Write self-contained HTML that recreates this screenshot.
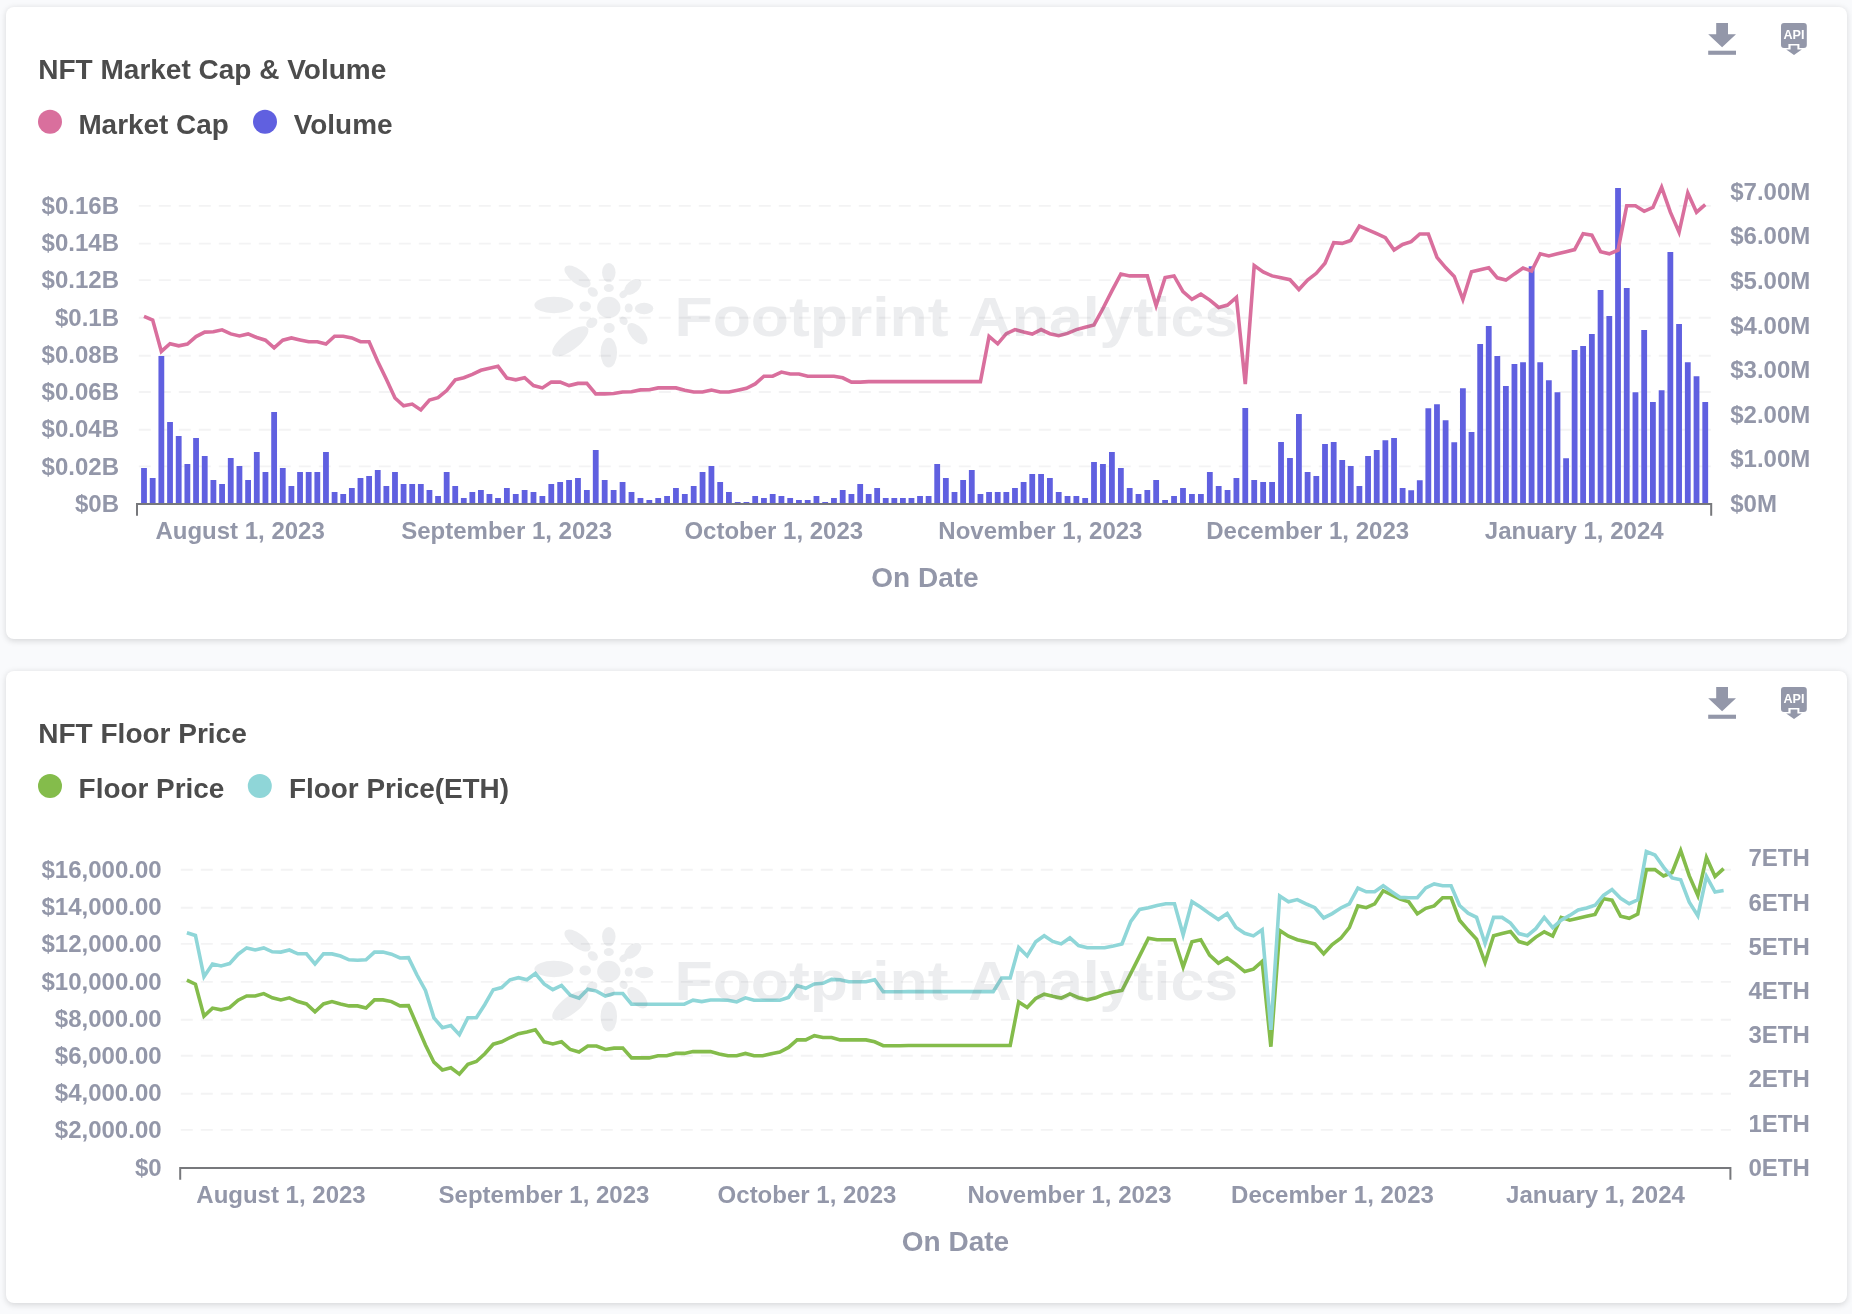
<!DOCTYPE html>
<html><head><meta charset="utf-8"><title>NFT charts</title>
<style>
html,body{margin:0;padding:0;}
body{width:1852px;height:1314px;background:#F9FAFC;position:relative;overflow:hidden;font-family:"Liberation Sans", sans-serif;}
.card{position:absolute;left:5.5px;width:1841px;background:#fff;border-radius:8px;box-shadow:0 1.5px 6px rgba(0,0,0,0.14);}
#c1{top:6.5px;height:632.5px;}
#c2{top:671px;height:632px;}
svg{position:absolute;left:0;top:0;}
text{font-family:"Liberation Sans", sans-serif;font-weight:bold;}
.tk{font-size:24px;fill:#9397A9;}
.ttl{font-size:28px;fill:#4C4C4C;}
.lg{font-size:27.9px;fill:#4C4C4C;}
.xl{font-size:28px;fill:#9397A9;}
</style></head><body>
<div class="card" id="c1"></div><div class="card" id="c2"></div>
<svg width="1852" height="1314" viewBox="0 0 1852 1314">
<defs>
<g id="wm">
<g fill="rgb(100,110,120)">
<ellipse cx="608.8" cy="307.4" rx="11.6" ry="10.6"/>
<ellipse cx="553.9" cy="305" rx="19.5" ry="8.2"/>
<ellipse cx="577.5" cy="276.5" rx="15.6" ry="7" transform="rotate(38 577.5 276.5)"/>
<ellipse cx="608.8" cy="272.6" rx="6.7" ry="9.7"/>
<ellipse cx="632.8" cy="286.9" rx="10" ry="6" transform="rotate(-40 632.8 286.9)"/>
<ellipse cx="644.1" cy="308.5" rx="9.2" ry="5.7"/>
<ellipse cx="637.4" cy="333.7" rx="13" ry="6.8" transform="rotate(48 637.4 333.7)"/>
<ellipse cx="608.8" cy="352.6" rx="8.2" ry="14.9"/>
<ellipse cx="570.3" cy="341.3" rx="22" ry="8.6" transform="rotate(-38 570.3 341.3)"/>
<ellipse cx="585.2" cy="306.4" rx="5.7" ry="5"/>
<ellipse cx="592.8" cy="292" rx="5.5" ry="4.3" transform="rotate(38 592.8 292)"/>
<ellipse cx="608.8" cy="288" rx="5" ry="4"/>
<ellipse cx="623.6" cy="294.1" rx="4.5" ry="3.4" transform="rotate(-40 623.6 294.1)"/>
<ellipse cx="628.7" cy="308" rx="4" ry="4.5"/>
<ellipse cx="623.6" cy="320.8" rx="4.5" ry="3.8" transform="rotate(48 623.6 320.8)"/>
<ellipse cx="609.2" cy="328" rx="5.5" ry="5"/>
<ellipse cx="591.8" cy="322.8" rx="6" ry="4.8" transform="rotate(-38 591.8 322.8)"/>
</g>
<text x="674.5" y="335.8" font-size="55" fill="rgb(100,110,120)" textLength="274" lengthAdjust="spacingAndGlyphs">Footprint</text>
<text x="968" y="335.8" font-size="55" fill="rgb(100,110,120)" textLength="270" lengthAdjust="spacingAndGlyphs">Analytics</text>
</g>
<g id="icons" fill="#9397A9">
<path d="M1716.2 23H1728V34.2H1736L1722.1 47.2L1708.2 34.2H1716.2Z"/>
<rect x="1708.2" y="50.7" width="27.8" height="4.1"/>
<path d="M1784 23H1803.8A3 3 0 0 1 1806.8 26V45A3 3 0 0 1 1803.8 48H1799.4V44H1788.4V48H1784A3 3 0 0 1 1781 45V26A3 3 0 0 1 1784 23Z"/>
<path d="M1790.6 45.6H1797.4V49.6H1801.8L1794 54.9L1786.2 49.6H1790.6Z"/>
<text x="1793.9" y="39.4" font-size="12.3" text-anchor="middle" fill="#fff" textLength="21" lengthAdjust="spacingAndGlyphs">API</text>
</g>
</defs>
<line x1="138.8" x2="1712.2" y1="466.4" y2="466.4" stroke="#F3F3F4" stroke-width="1.9" stroke-dasharray="12 8"/>
<line x1="138.8" x2="1712.2" y1="429.7" y2="429.7" stroke="#F3F3F4" stroke-width="1.9" stroke-dasharray="12 8"/>
<line x1="138.8" x2="1712.2" y1="392" y2="392" stroke="#F3F3F4" stroke-width="1.9" stroke-dasharray="12 8"/>
<line x1="138.8" x2="1712.2" y1="355.7" y2="355.7" stroke="#F3F3F4" stroke-width="1.9" stroke-dasharray="12 8"/>
<line x1="138.8" x2="1712.2" y1="317.8" y2="317.8" stroke="#F3F3F4" stroke-width="1.9" stroke-dasharray="12 8"/>
<line x1="138.8" x2="1712.2" y1="280.1" y2="280.1" stroke="#F3F3F4" stroke-width="1.9" stroke-dasharray="12 8"/>
<line x1="138.8" x2="1712.2" y1="243.6" y2="243.6" stroke="#F3F3F4" stroke-width="1.9" stroke-dasharray="12 8"/>
<line x1="138.8" x2="1712.2" y1="205.9" y2="205.9" stroke="#F3F3F4" stroke-width="1.9" stroke-dasharray="12 8"/>
<path d="M141.1 503.5V468.1h5.8V503.5ZM149.78 503.5V478h5.8V503.5ZM158.45 503.5V355.9h5.8V503.5ZM167.13 503.5V421.9h5.8V503.5ZM175.8 503.5V436.1h5.8V503.5ZM184.48 503.5V464h5.8V503.5ZM193.15 503.5V438h5.8V503.5ZM201.83 503.5V456.1h5.8V503.5ZM210.5 503.5V480h5.8V503.5ZM219.18 503.5V484h5.8V503.5ZM227.85 503.5V458.1h5.8V503.5ZM236.53 503.5V466.1h5.8V503.5ZM245.2 503.5V480h5.8V503.5ZM253.88 503.5V452h5.8V503.5ZM262.55 503.5V472h5.8V503.5ZM271.23 503.5V412.1h5.8V503.5ZM279.87 503.5V468.1h5.8V503.5ZM288.51 503.5V486.1h5.8V503.5ZM297.15 503.5V472h5.8V503.5ZM305.78 503.5V472h5.8V503.5ZM314.42 503.5V472h5.8V503.5ZM323.06 503.5V452h5.8V503.5ZM331.69 503.5V492.1h5.8V503.5ZM340.32 503.5V494h5.8V503.5ZM348.95 503.5V488.1h5.8V503.5ZM357.58 503.5V478h5.8V503.5ZM366.21 503.5V476.1h5.8V503.5ZM374.84 503.5V470.1h5.8V503.5ZM383.46 503.5V486.1h5.8V503.5ZM392.08 503.5V472h5.8V503.5ZM400.69 503.5V484h5.8V503.5ZM409.31 503.5V484h5.8V503.5ZM417.92 503.5V484h5.8V503.5ZM426.54 503.5V490.1h5.8V503.5ZM435.15 503.5V496h5.8V503.5ZM443.77 503.5V472h5.8V503.5ZM452.33 503.5V486.1h5.8V503.5ZM460.88 503.5V498.1h5.8V503.5ZM469.44 503.5V492.1h5.8V503.5ZM477.99 503.5V490.1h5.8V503.5ZM486.55 503.5V494h5.8V503.5ZM495.1 503.5V498.1h5.8V503.5ZM503.97 503.5V488.1h5.8V503.5ZM512.85 503.5V494h5.8V503.5ZM521.72 503.5V490.1h5.8V503.5ZM530.59 503.5V492.1h5.8V503.5ZM539.48 503.5V496h5.8V503.5ZM548.38 503.5V484h5.8V503.5ZM557.27 503.5V482h5.8V503.5ZM566.16 503.5V480h5.8V503.5ZM575.06 503.5V478h5.8V503.5ZM583.95 503.5V490.1h5.8V503.5ZM592.84 503.5V450h5.8V503.5ZM601.79 503.5V480h5.8V503.5ZM610.73 503.5V490.1h5.8V503.5ZM619.67 503.5V482h5.8V503.5ZM628.61 503.5V492.1h5.8V503.5ZM637.55 503.5V498.1h5.8V503.5ZM646.43 503.5V500.1h5.8V503.5ZM655.3 503.5V498.1h5.8V503.5ZM664.17 503.5V496h5.8V503.5ZM673.04 503.5V488.1h5.8V503.5ZM681.91 503.5V494h5.8V503.5ZM690.79 503.5V486.1h5.8V503.5ZM699.66 503.5V472h5.8V503.5ZM708.53 503.5V466.1h5.8V503.5ZM717.28 503.5V482h5.8V503.5ZM726.03 503.5V492.1h5.8V503.5ZM734.78 503.5V502h5.8V503.5ZM743.54 503.5V502h5.8V503.5ZM752.29 503.5V496h5.8V503.5ZM761.04 503.5V498.1h5.8V503.5ZM769.79 503.5V494h5.8V503.5ZM778.54 503.5V496h5.8V503.5ZM787.29 503.5V498.1h5.8V503.5ZM796.04 503.5V500.1h5.8V503.5ZM804.8 503.5V500.1h5.8V503.5ZM813.55 503.5V496h5.8V503.5ZM822.3 503.5V502h5.8V503.5ZM831.05 503.5V498.1h5.8V503.5ZM839.8 503.5V490.1h5.8V503.5ZM848.55 503.5V494h5.8V503.5ZM857.3 503.5V484h5.8V503.5ZM865.78 503.5V494h5.8V503.5ZM874.25 503.5V488.1h5.8V503.5ZM882.83 503.5V498.1h5.8V503.5ZM891.41 503.5V498.1h5.8V503.5ZM899.99 503.5V498.1h5.8V503.5ZM908.56 503.5V498.1h5.8V503.5ZM917.14 503.5V496h5.8V503.5ZM925.72 503.5V496h5.8V503.5ZM934.3 503.5V464h5.8V503.5ZM942.95 503.5V478h5.8V503.5ZM951.6 503.5V492.1h5.8V503.5ZM960.24 503.5V480h5.8V503.5ZM968.89 503.5V470.1h5.8V503.5ZM977.53 503.5V494h5.8V503.5ZM986.16 503.5V492.1h5.8V503.5ZM994.8 503.5V492.1h5.8V503.5ZM1003.44 503.5V492.1h5.8V503.5ZM1012.07 503.5V488.1h5.8V503.5ZM1020.71 503.5V482h5.8V503.5ZM1029.34 503.5V474h5.8V503.5ZM1038.17 503.5V474h5.8V503.5ZM1046.99 503.5V478h5.8V503.5ZM1055.81 503.5V492.1h5.8V503.5ZM1064.63 503.5V496h5.8V503.5ZM1073.45 503.5V496h5.8V503.5ZM1082.28 503.5V498.1h5.8V503.5ZM1091.1 503.5V462h5.8V503.5ZM1100.05 503.5V464h5.8V503.5ZM1109.01 503.5V452h5.8V503.5ZM1117.96 503.5V468.1h5.8V503.5ZM1126.79 503.5V488.1h5.8V503.5ZM1135.61 503.5V494h5.8V503.5ZM1144.43 503.5V490h5.8V503.5ZM1153.25 503.5V480h5.8V503.5ZM1162.2 503.5V500.1h5.8V503.5ZM1171.15 503.5V496h5.8V503.5ZM1180.09 503.5V488.1h5.8V503.5ZM1189.04 503.5V494h5.8V503.5ZM1197.99 503.5V494h5.8V503.5ZM1206.93 503.5V472.1h5.8V503.5ZM1215.79 503.5V486.1h5.8V503.5ZM1224.65 503.5V490h5.8V503.5ZM1233.51 503.5V478h5.8V503.5ZM1242.37 503.5V408h5.8V503.5ZM1251.31 503.5V480h5.8V503.5ZM1260.25 503.5V482h5.8V503.5ZM1269.19 503.5V482h5.8V503.5ZM1278.13 503.5V442h5.8V503.5ZM1287.07 503.5V458.1h5.8V503.5ZM1296 503.5V414h5.8V503.5ZM1304.7 503.5V472.1h5.8V503.5ZM1313.4 503.5V476.1h5.8V503.5ZM1322.1 503.5V444.1h5.8V503.5ZM1330.79 503.5V442h5.8V503.5ZM1339.31 503.5V460h5.8V503.5ZM1347.84 503.5V466.1h5.8V503.5ZM1356.5 503.5V486.1h5.8V503.5ZM1365.16 503.5V456.1h5.8V503.5ZM1373.82 503.5V450.1h5.8V503.5ZM1382.48 503.5V440.2h5.8V503.5ZM1391.15 503.5V438.1h5.8V503.5ZM1399.72 503.5V488.1h5.8V503.5ZM1408.29 503.5V490.2h5.8V503.5ZM1416.86 503.5V480.2h5.8V503.5ZM1425.43 503.5V408.2h5.8V503.5ZM1434.07 503.5V404.2h5.8V503.5ZM1442.71 503.5V420.2h5.8V503.5ZM1451.35 503.5V442.2h5.8V503.5ZM1459.99 503.5V388.2h5.8V503.5ZM1468.63 503.5V432.1h5.8V503.5ZM1477.27 503.5V344.1h5.8V503.5ZM1485.84 503.5V326.1h5.8V503.5ZM1494.41 503.5V356.1h5.8V503.5ZM1502.98 503.5V386.1h5.8V503.5ZM1511.55 503.5V364.1h5.8V503.5ZM1520.13 503.5V362.2h5.8V503.5ZM1528.7 503.5V266.3h5.8V503.5ZM1537.32 503.5V362.2h5.8V503.5ZM1545.94 503.5V380.2h5.8V503.5ZM1554.56 503.5V392.2h5.8V503.5ZM1563.19 503.5V458.2h5.8V503.5ZM1571.71 503.5V350.1h5.8V503.5ZM1580.23 503.5V346.1h5.8V503.5ZM1588.95 503.5V334.1h5.8V503.5ZM1597.67 503.5V290.1h5.8V503.5ZM1606.4 503.5V316.1h5.8V503.5ZM1615.12 503.5V188h5.8V503.5ZM1623.84 503.5V288h5.8V503.5ZM1632.56 503.5V392.2h5.8V503.5ZM1641.28 503.5V330h5.8V503.5ZM1650.01 503.5V402.1h5.8V503.5ZM1658.73 503.5V390.2h5.8V503.5ZM1667.45 503.5V252h5.8V503.5ZM1676.17 503.5V324h5.8V503.5ZM1684.89 503.5V362.2h5.8V503.5ZM1693.62 503.5V376.2h5.8V503.5ZM1702.34 503.5V402.1h5.8V503.5Z" fill="#6060E0"/>
<polyline points="144,316.3 152.68,320 161.35,351.4 170.03,343.7 178.7,345.8 187.38,344 196.05,336.6 204.73,332.1 213.4,331.8 222.08,329.8 230.75,333.9 239.43,335.9 248.1,333.9 256.78,337.5 265.45,340.2 274.13,347.8 282.77,340.2 291.41,337.9 300.05,339.9 308.68,341.7 317.32,341.7 325.96,344 334.59,336.2 343.22,336.2 351.85,337.9 360.48,341.7 369.11,341.7 377.74,361.5 386.36,379.2 394.98,398 403.59,405.8 412.21,404.1 420.82,409.9 429.44,400 438.05,397.7 446.67,390.6 455.23,379.8 463.78,377.7 472.34,374.4 480.89,370.3 489.45,368.3 498,366.3 506.87,378 515.75,379.8 524.62,377.7 533.49,385.6 542.38,387.9 551.28,382.1 560.17,382.1 569.06,385.6 577.96,383.4 586.85,383.4 595.74,393.9 604.69,393.9 613.63,393.5 622.57,392 631.51,391.7 640.45,389.9 649.33,389.7 658.2,387.9 667.07,387.9 675.94,387.9 684.81,390.2 693.69,392 702.56,392 711.43,390 720.18,392 728.93,392 737.68,390.2 746.44,388.3 755.19,383.9 763.94,376.2 772.69,376.2 781.44,372.1 790.19,374 798.94,374 807.7,376.2 816.45,376.2 825.2,376.2 833.95,376.2 842.7,377.8 851.45,382.1 860.2,382.1 868.68,381.6 877.15,381.6 885.73,381.6 894.31,381.6 902.89,381.6 911.46,381.6 920.04,381.6 928.62,381.6 937.2,381.6 945.85,381.6 954.5,381.6 963.14,381.6 971.79,381.6 980.43,381.6 989.06,336.4 997.7,343.8 1006.34,333.7 1014.97,329.6 1023.61,332.1 1032.24,334 1041.07,329.6 1049.89,333.7 1058.71,335.7 1067.53,333.4 1076.35,329.6 1085.18,327.2 1094,324.9 1102.95,308.5 1111.91,290.9 1120.86,274 1129.69,275.9 1138.51,275.9 1147.33,275.9 1156.15,305.7 1165.1,277.6 1174.05,275.9 1182.99,291.6 1191.94,299.4 1200.89,294.2 1209.83,300.1 1218.69,307.4 1227.55,305 1236.41,297.3 1245.27,384 1254.21,265.6 1263.15,271.9 1272.09,275.9 1281.03,277.8 1289.97,279.7 1298.9,289.5 1307.6,280.1 1316.3,273.3 1325,263.2 1333.69,242.7 1342.21,243.4 1350.74,240.4 1359.4,226.1 1368.06,229.8 1376.72,233.7 1385.38,237.6 1394.05,250.1 1402.62,244.5 1411.19,241.7 1419.76,234 1428.33,234 1436.97,257.3 1445.61,267.6 1454.25,276.4 1462.89,299.5 1471.53,271.8 1480.17,269.7 1488.74,267.8 1497.31,277.8 1505.88,280.1 1514.45,273.9 1523.03,268.1 1531.6,271.1 1540.22,253.8 1548.84,255.9 1557.46,253.8 1566.09,251.7 1574.61,249.6 1583.13,233.7 1591.85,235.1 1600.57,251.7 1609.3,253.8 1618.02,250.1 1626.74,205.7 1635.46,205.7 1644.18,211.3 1652.91,207.4 1661.63,187.3 1670.35,212.2 1679.07,232.3 1687.79,192.9 1696.52,212.2 1705.24,204.6" fill="none" stroke="#D96F9D" stroke-width="3.6" stroke-linejoin="miter" stroke-miterlimit="4"/>
<use href="#wm" opacity="0.125"/>
<path d="M137.0 515.8V504.0H1711.2V515.8" fill="none" stroke="#77787C" stroke-width="2"/>
<text class="tk" x="119" y="512" text-anchor="end">$0B</text>
<text class="tk" x="119" y="474.73" text-anchor="end">$0.02B</text>
<text class="tk" x="119" y="437.45" text-anchor="end">$0.04B</text>
<text class="tk" x="119" y="400.18" text-anchor="end">$0.06B</text>
<text class="tk" x="119" y="362.9" text-anchor="end">$0.08B</text>
<text class="tk" x="119" y="325.62" text-anchor="end">$0.1B</text>
<text class="tk" x="119" y="288.35" text-anchor="end">$0.12B</text>
<text class="tk" x="119" y="251.07" text-anchor="end">$0.14B</text>
<text class="tk" x="119" y="213.8" text-anchor="end">$0.16B</text>
<text class="tk" x="1730.2" y="512.1">$0M</text>
<text class="tk" x="1730.2" y="467.47">$1.00M</text>
<text class="tk" x="1730.2" y="422.84">$2.00M</text>
<text class="tk" x="1730.2" y="378.21">$3.00M</text>
<text class="tk" x="1730.2" y="333.59">$4.00M</text>
<text class="tk" x="1730.2" y="288.96">$5.00M</text>
<text class="tk" x="1730.2" y="244.33">$6.00M</text>
<text class="tk" x="1730.2" y="199.7">$7.00M</text>
<text class="tk" x="240.1" y="539" text-anchor="middle">August 1, 2023</text>
<text class="tk" x="506.6" y="539" text-anchor="middle">September 1, 2023</text>
<text class="tk" x="773.8" y="539" text-anchor="middle">October 1, 2023</text>
<text class="tk" x="1040.4" y="539" text-anchor="middle">November 1, 2023</text>
<text class="tk" x="1307.7" y="539" text-anchor="middle">December 1, 2023</text>
<text class="tk" x="1574.2" y="539" text-anchor="middle">January 1, 2024</text>
<text class="xl" x="925" y="587" text-anchor="middle">On Date</text>
<text class="ttl" x="38.3" y="79.3">NFT Market Cap &amp; Volume</text>
<circle cx="50" cy="121.8" r="12" fill="#D96F9D"/>
<text class="lg" x="78.4" y="134">Market Cap</text>
<circle cx="265" cy="121.8" r="12" fill="#6060E0"/>
<text class="lg" x="293.8" y="134">Volume</text>
<use href="#icons"/>
<line x1="180.8" x2="1731.0" y1="1129.9" y2="1129.9" stroke="#F3F3F4" stroke-width="1.9" stroke-dasharray="12 8"/>
<line x1="180.8" x2="1731.0" y1="1093.8" y2="1093.8" stroke="#F3F3F4" stroke-width="1.9" stroke-dasharray="12 8"/>
<line x1="180.8" x2="1731.0" y1="1055.7" y2="1055.7" stroke="#F3F3F4" stroke-width="1.9" stroke-dasharray="12 8"/>
<line x1="180.8" x2="1731.0" y1="1019.8" y2="1019.8" stroke="#F3F3F4" stroke-width="1.9" stroke-dasharray="12 8"/>
<line x1="180.8" x2="1731.0" y1="981.9" y2="981.9" stroke="#F3F3F4" stroke-width="1.9" stroke-dasharray="12 8"/>
<line x1="180.8" x2="1731.0" y1="943.9" y2="943.9" stroke="#F3F3F4" stroke-width="1.9" stroke-dasharray="12 8"/>
<line x1="180.8" x2="1731.0" y1="907.7" y2="907.7" stroke="#F3F3F4" stroke-width="1.9" stroke-dasharray="12 8"/>
<line x1="180.8" x2="1731.0" y1="869.7" y2="869.7" stroke="#F3F3F4" stroke-width="1.9" stroke-dasharray="12 8"/>
<polyline points="186.9,980.2 195.44,984.2 203.98,1016.1 212.52,1008.1 221.06,1009.8 229.6,1007.7 238.13,1000.2 246.67,996 255.21,996 263.75,993.6 272.29,997.8 280.83,999.9 289.37,997.8 297.91,1001.6 306.45,1003.9 314.99,1011.9 323.49,1003.9 331.99,1001.6 340.49,1003.9 349,1005.9 357.5,1005.9 366,1008.1 374.5,999.9 382.99,999.9 391.49,1001.6 399.98,1005.9 408.48,1005.6 416.97,1025.3 425.45,1045 433.93,1062.2 442.41,1069.9 450.89,1067.8 459.37,1074.1 467.86,1064.3 476.34,1061.5 484.82,1053.7 493.24,1044.2 501.66,1041.8 510.08,1037.5 518.5,1033.7 526.92,1031.9 535.34,1029.8 544.07,1041.8 552.81,1043.9 561.54,1041.8 570.27,1049.5 579.03,1052 587.78,1046 596.53,1046 605.29,1049.5 614.04,1048.1 622.79,1048.1 631.55,1057.9 640.35,1057.9 649.15,1057.9 657.95,1055.8 666.75,1055.8 675.56,1053.4 684.29,1053.4 693.02,1051.6 701.75,1051.6 710.49,1051.6 719.22,1054 727.95,1055.8 736.68,1055.8 745.42,1053.4 754.03,1055.8 762.65,1055.8 771.26,1053.7 779.87,1052 788.49,1047.4 797.1,1039.9 805.71,1039.9 814.33,1035.7 822.94,1037.5 831.56,1037.5 840.17,1039.9 848.78,1039.9 857.4,1039.9 866.01,1039.9 874.63,1041.8 883.24,1045.7 891.85,1045.7 900.19,1045.7 908.53,1045.5 916.98,1045.5 925.42,1045.5 933.87,1045.5 942.31,1045.5 950.75,1045.5 959.2,1045.5 967.64,1045.5 976.15,1045.5 984.67,1045.5 993.18,1045.5 1001.69,1045.5 1010.19,1045.5 1018.69,1001.9 1027.19,1007.5 1035.69,998.4 1044.19,994.2 1052.69,996.3 1061.19,998.1 1069.88,993.9 1078.56,997.7 1087.24,999.8 1095.93,997.7 1104.61,994.2 1113.29,992.1 1121.98,990.5 1130.79,973.4 1139.61,955.9 1148.42,938.3 1157.1,939.7 1165.79,939.7 1174.47,939.7 1183.15,967 1191.96,941.8 1200.77,939.7 1209.57,955.2 1218.38,963.2 1227.19,958 1235.99,964.3 1244.71,971.6 1253.43,969.2 1262.15,961.5 1270.87,1046.7 1279.67,930.5 1288.47,936.2 1297.27,939.7 1306.07,941.8 1314.87,943.9 1323.66,953.8 1332.22,944.6 1340.78,938.3 1349.34,927.7 1357.91,905.9 1366.29,907.7 1374.68,903.9 1383.21,890.7 1391.73,894.9 1400.26,899.1 1408.79,901.9 1417.31,913.9 1425.75,908.3 1434.19,905.9 1442.62,897.7 1451.06,897.7 1459.56,920.2 1468.07,930.1 1476.57,939.2 1485.07,962.5 1493.58,935.7 1502.08,933.6 1510.52,931.5 1518.95,941.6 1527.39,943.9 1535.83,937.1 1544.27,931.8 1552.7,936 1561.19,917.4 1569.68,920.2 1578.16,918.3 1586.65,916.3 1595.04,914.4 1603.43,898.8 1612.01,900.1 1620.6,916.3 1629.18,918.3 1637.77,914.1 1646.35,869.6 1654.94,869.6 1663.52,875.9 1672.11,872.5 1680.69,850.6 1689.28,875.9 1697.86,895.5 1706.45,857.4 1715.03,876.4 1723.62,868.6" fill="none" stroke="#84BC4B" stroke-width="3.6" stroke-linejoin="miter" stroke-miterlimit="4"/>
<polyline points="186.9,932.7 195.44,935.5 203.98,976.7 212.52,964 221.06,965.9 229.6,963.6 238.13,954.2 246.67,947.9 255.21,950 263.75,947.9 272.29,951.8 280.83,952.1 289.37,950 297.91,953.8 306.45,953.8 314.99,964 323.49,953.9 331.99,953.9 340.49,956 349,959.8 357.5,960.2 366,959.8 374.5,952.1 382.99,952.1 391.49,954.2 399.98,958 408.48,957.7 416.97,975 425.45,990.4 433.93,1017.8 442.41,1027.7 450.89,1025.6 459.37,1034.7 467.86,1017.8 476.34,1017.8 484.82,1004.5 493.24,989.7 501.66,987.6 510.08,979.8 518.5,977.7 526.92,979.8 535.34,973.5 544.07,984 552.81,989.7 561.54,985.5 570.27,995.3 579.03,998.1 587.78,989.3 596.53,991.1 605.29,996 614.04,993.5 622.79,993.5 631.55,1004.2 640.35,1004.2 649.15,1004.2 657.95,1004.2 666.75,1004.2 675.56,1004.2 684.29,1004.2 693.02,1000.2 701.75,1001.6 710.49,1000 719.22,1000 727.95,1000.2 736.68,1001.9 745.42,997.8 754.03,1000.2 762.65,1000.2 771.26,1000.2 779.87,1000.2 788.49,997.4 797.1,985.5 805.71,988.3 814.33,984 822.94,983.3 831.56,979.4 840.17,979.8 848.78,981.7 857.4,981.7 866.01,981.7 874.63,979.8 883.24,991.8 891.85,991.8 900.19,991.8 908.53,991.6 916.98,991.6 925.42,991.6 933.87,991.6 942.31,991.6 950.75,991.6 959.2,991.6 967.64,991.6 976.15,991.6 984.67,991.6 993.18,991.6 1001.69,978 1010.19,978 1018.69,947.4 1027.19,955.9 1035.69,941.8 1044.19,935.7 1052.69,941.4 1061.19,943.9 1069.88,937.9 1078.56,945.6 1087.24,947.7 1095.93,947.7 1104.61,947.7 1113.29,946 1121.98,943.9 1130.79,921.4 1139.61,909.4 1148.42,907.7 1157.1,905.5 1165.79,903.8 1174.47,903.8 1183.15,934.8 1191.96,901.7 1200.77,907.3 1209.57,913.6 1218.38,919.5 1227.19,913.6 1235.99,927.4 1244.71,933.3 1253.43,935.9 1262.15,929.8 1270.87,1029.8 1279.67,896 1288.47,901.7 1297.27,899.6 1306.07,903.8 1314.87,907.7 1323.66,917.9 1332.22,913.6 1340.78,908 1349.34,903.8 1357.91,888 1366.29,891.8 1374.68,891.8 1383.21,885.7 1391.73,891.8 1400.26,897.4 1408.79,897.7 1417.31,897.7 1425.75,887.9 1434.19,883.9 1442.62,885.7 1451.06,885.7 1459.56,905.5 1468.07,913.2 1476.57,917.4 1485.07,943.5 1493.58,917.4 1502.08,917.4 1510.52,923.1 1518.95,933.6 1527.39,935.7 1535.83,928.7 1544.27,917.4 1552.7,927.6 1561.19,920.2 1569.68,915.4 1578.16,910 1586.65,907.9 1595.04,905.3 1603.43,895.4 1612.01,889.5 1620.6,898.3 1629.18,903.7 1637.77,899.8 1646.35,851.6 1654.94,855 1663.52,867.1 1672.11,877.9 1680.69,879.8 1689.28,902.2 1697.86,915.8 1706.45,876.4 1715.03,892 1723.62,890.5" fill="none" stroke="#8FD6D8" stroke-width="3.6" stroke-linejoin="miter" stroke-miterlimit="4"/>
<use href="#wm" y="664" opacity="0.125"/>
<path d="M180.2 1179.8V1168.0H1730.4V1179.8" fill="none" stroke="#77787C" stroke-width="2"/>
<text class="tk" x="161.6" y="1175.7" text-anchor="end">$0</text>
<text class="tk" x="161.6" y="1138.46" text-anchor="end">$2,000.00</text>
<text class="tk" x="161.6" y="1101.22" text-anchor="end">$4,000.00</text>
<text class="tk" x="161.6" y="1063.99" text-anchor="end">$6,000.00</text>
<text class="tk" x="161.6" y="1026.75" text-anchor="end">$8,000.00</text>
<text class="tk" x="161.6" y="989.51" text-anchor="end">$10,000.00</text>
<text class="tk" x="161.6" y="952.27" text-anchor="end">$12,000.00</text>
<text class="tk" x="161.6" y="915.04" text-anchor="end">$14,000.00</text>
<text class="tk" x="161.6" y="877.8" text-anchor="end">$16,000.00</text>
<text class="tk" x="1748.5" y="1175.6">0ETH</text>
<text class="tk" x="1748.5" y="1131.5">1ETH</text>
<text class="tk" x="1748.5" y="1087.4">2ETH</text>
<text class="tk" x="1748.5" y="1043.3">3ETH</text>
<text class="tk" x="1748.5" y="999.2">4ETH</text>
<text class="tk" x="1748.5" y="955.1">5ETH</text>
<text class="tk" x="1748.5" y="911">6ETH</text>
<text class="tk" x="1748.5" y="865.5">7ETH</text>
<text class="tk" x="281" y="1203" text-anchor="middle">August 1, 2023</text>
<text class="tk" x="544" y="1203" text-anchor="middle">September 1, 2023</text>
<text class="tk" x="807" y="1203" text-anchor="middle">October 1, 2023</text>
<text class="tk" x="1069.5" y="1203" text-anchor="middle">November 1, 2023</text>
<text class="tk" x="1332.5" y="1203" text-anchor="middle">December 1, 2023</text>
<text class="tk" x="1595.5" y="1203" text-anchor="middle">January 1, 2024</text>
<text class="xl" x="955.5" y="1251" text-anchor="middle">On Date</text>
<text class="ttl" x="38.3" y="743.3">NFT Floor Price</text>
<circle cx="50" cy="786" r="12" fill="#84BC4B"/>
<text class="lg" x="78.6" y="798">Floor Price</text>
<circle cx="259.8" cy="786" r="12" fill="#8FD6D8"/>
<text class="lg" x="289" y="798">Floor Price(ETH)</text>
<use href="#icons" y="664"/>
</svg></body></html>
